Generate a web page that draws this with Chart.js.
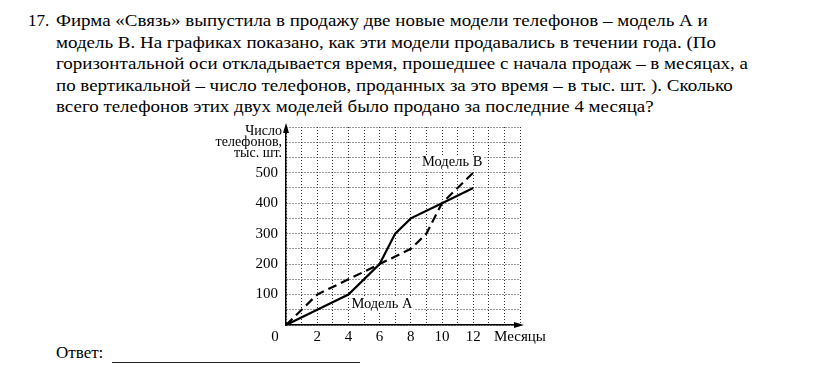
<!DOCTYPE html>
<html>
<head>
<meta charset="utf-8">
<script src="https://cdn.jsdelivr.net/npm/chart.js@4"></script>
<style>
  body { margin: 0; background: #fff; width: 828px; height: 384px; overflow: hidden; position: relative; font-family: 'Liberation Serif', 'Times New Roman', serif; color: #000; }
  .ln { position: absolute; font-size: 17px; line-height: 21px; white-space: nowrap; transform-origin: 0 0; }
  #chartBox { position: absolute; left: 200px; top: 110px; width: 350px; height: 250px; }
  #answerLine { position: absolute; left: 112px; top: 362px; width: 248px; border-top: 1px solid #222; }
</style>
</head>
<body>
<div class="ln" style="left:28px;top:10px">17.</div>
<div class="ln tl" style="left:56px;top:10px">Фирма «Связь» выпустила в продажу две новые модели телефонов – модель А и</div>
<div class="ln tl" style="left:56px;top:31.5px">модель В. На графиках показано, как эти модели продавались в течении года. (По</div>
<div class="ln tl" id="ref" style="left:56px;top:53px">горизонтальной оси откладывается время, прошедшее с начала продаж – в месяцах, а</div>
<div class="ln tl" style="left:56px;top:74.5px">по вертикальной – число телефонов, проданных за это время – в тыс. шт. ). Сколько</div>
<div class="ln tl" style="left:56px;top:96px">всего телефонов этих двух моделей было продано за последние 4 месяца?</div>
<div class="ln" style="left:56px;top:342px">Ответ:</div>
<div id="answerLine"></div>
<div id="chartBox"><canvas id="c"></canvas></div>
<script>
// fit the task text to the width of the scan
const sx = 692 / document.getElementById('ref').getBoundingClientRect().width;
document.querySelectorAll('.tl').forEach(el => el.style.transform = 'scaleX(' + sx + ')');

// months since start of sales, thousands of phones sold
const monthsA = [0, 2, 4, 6, 7, 8, 10, 12];
const salesA = [0, 50, 100, 200, 300, 350, 400, 450];
const monthsB = [0, 2, 4, 6, 8, 9, 10, 12];
const salesB = [0, 100, 150, 200, 250, 300, 400, 500];

const xTickLabels = {2: '2', 4: '4', 6: '6', 8: '8', 10: '10', 12: '12', 15: 'Месяцы'};
const yTickLabels = {100: '100', 200: '200', 300: '300', 400: '400', 500: '500'};
const yTitle = ['Число', 'телефонов,', 'тыс. шт.'];
const seriesNames = ['Модель А', 'Модель В'];

const serif = "'Liberation Serif', 'Times New Roman', serif";

function label(ctx, text, x, y) {
  const w = ctx.measureText(text).width;
  ctx.fillStyle = '#fff';
  ctx.fillRect(x - w / 2 - 1, y - 7, w + 2, 14);
  ctx.fillStyle = '#000';
  ctx.fillText(text, x, y);
}

const extras = {
  id: 'extras',
  afterDraw(chart) {
    const ctx = chart.ctx;
    const xs = chart.scales.x, ys = chart.scales.y;
    const x0 = xs.getPixelForValue(0), y0 = ys.getPixelForValue(0);
    ctx.save();
    ctx.fillStyle = '#000';
    // arrows
    ctx.beginPath();
    ctx.moveTo(x0, ys.top - 4);
    ctx.lineTo(x0 - 3, ys.top + 6);
    ctx.lineTo(x0 + 3, ys.top + 6);
    ctx.closePath();
    ctx.fill();
    ctx.beginPath();
    ctx.moveTo(xs.right + 4, y0);
    ctx.lineTo(xs.right - 6, y0 - 3);
    ctx.lineTo(xs.right - 6, y0 + 3);
    ctx.closePath();
    ctx.fill();
    ctx.fillRect(x0 - 0.5, ys.top, 1.5, 4);
    // origin label
    ctx.font = '15px ' + serif;
    ctx.textAlign = 'center';
    ctx.textBaseline = 'middle';
    ctx.fillText('0', x0 - 11, y0 + 12);
    // axis title
    ctx.font = '14px ' + serif;
    ctx.textAlign = 'right';
    yTitle.forEach((t, i) => ctx.fillText(t, x0 - 4, ys.top + 4 + i * 11));
    // series names
    ctx.font = '14.5px ' + serif;
    ctx.textAlign = 'center';
    label(ctx, seriesNames[0], xs.getPixelForValue(6.15), ys.getPixelForValue(68));
    label(ctx, seriesNames[1], xs.getPixelForValue(10.65), ys.getPixelForValue(533));
    ctx.restore();
  }
};

new Chart(document.getElementById('c'), {
  type: 'line',
  data: {
    datasets: [
      {
        label: seriesNames[0],
        data: monthsA.map((m, i) => ({x: m, y: salesA[i]})),
        borderColor: '#000',
        borderWidth: 2.2,
        pointRadius: 0,
        tension: 0
      },
      {
        label: seriesNames[1],
        data: monthsB.map((m, i) => ({x: m, y: salesB[i]})),
        borderColor: '#000',
        borderWidth: 2.2,
        borderDash: [9, 5],
        pointRadius: 0,
        tension: 0
      }
    ]
  },
  options: {
    responsive: true,
    maintainAspectRatio: false,
    animation: false,
    layout: { autoPadding: false, padding: {top: 14, right: 30, bottom: 0, left: 0} },
    plugins: { legend: { display: false }, tooltip: { enabled: false } },
    scales: {
      x: {
        type: 'linear',
        min: 0,
        max: 15,
        afterFit(s) { s.height = 35; },
        grid: { color: '#333', lineWidth: 1, drawTicks: false },
        border: { color: '#000', width: 1.5, dash: [1, 2] },
        ticks: {
          stepSize: 1,
          autoSkip: false,
          maxRotation: 0,
          padding: 3,
          color: '#000',
          font: { family: serif, size: 15 },
          callback: v => xTickLabels[v] || ''
        }
      },
      y: {
        min: 0,
        max: 650,
        afterFit(s) { s.width = 86; },
        grid: { color: '#333', lineWidth: 1, drawTicks: false },
        border: { color: '#000', width: 1.5, dash: [1, 2] },
        ticks: {
          stepSize: 50,
          autoSkip: false,
          padding: 8,
          color: '#000',
          font: { family: serif, size: 15 },
          callback: v => yTickLabels[v] || ''
        }
      }
    }
  },
  plugins: [extras]
});
</script>
</body>
</html>
